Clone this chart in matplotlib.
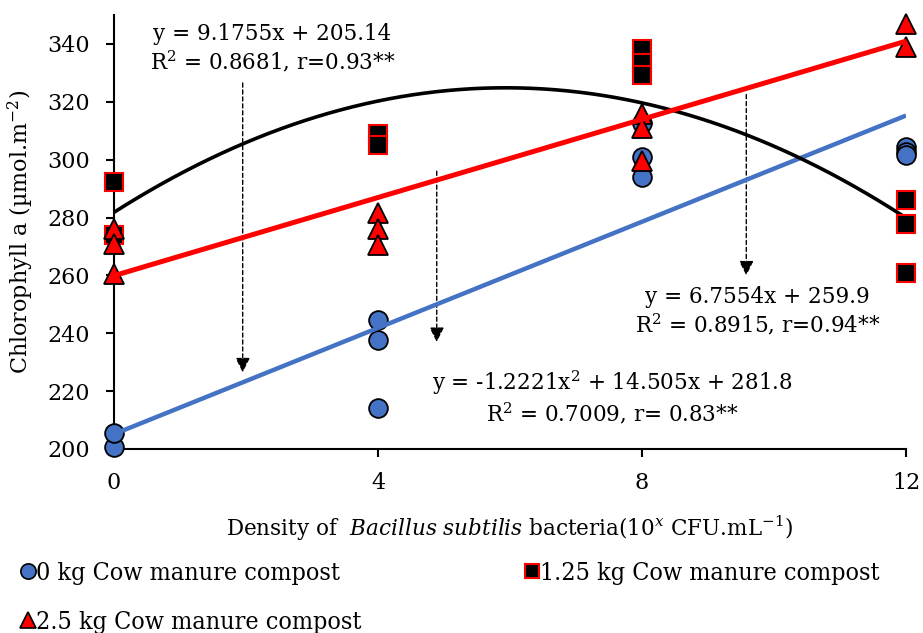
import numpy as np
import matplotlib
matplotlib.use('Agg')
import matplotlib.pyplot as plt
from matplotlib.lines import Line2D

plt.rcParams['font.family'] = 'DejaVu Serif'
plt.rcParams['mathtext.fontset'] = 'dejavuserif'

# Bacillus density (10^x) for each measurement
X_CIRCLE = [0, 0, 4, 4, 4, 8, 8, 8, 12, 12, 12]
Y_CIRCLE = [200.8, 205.4, 244.5, 237.5, 214.0, 312.5, 301.0, 294.0, 304.5, 302.5, 301.5]

X_SQUARE = [0, 0, 4, 4, 8, 8, 8, 12, 12, 12]
Y_SQUARE = [292.3, 274.0, 309.0, 305.0, 338.3, 333.5, 329.3, 286.2, 277.9, 260.7]

X_TRI = [0, 0, 0, 4, 4, 4, 8, 8, 8, 12, 12]
Y_TRI = [276.0, 271.0, 260.5, 281.4, 276.2, 270.4, 315.7, 311.0, 299.5, 346.8, 339.0]

# trendline coefficients (highest power first), as printed on the chart
FIT_CIRCLE = [9.1755, 205.14]
FIT_SQUARE = [-1.2221, 14.505, 281.8]
FIT_TRI = [6.7554, 259.9]

LABELS = ['0 kg Cow manure compost', '1.25 kg Cow manure compost', '2.5 kg Cow manure compost']
BLUE = '#4472C4'

fig = plt.figure(figsize=(9.23, 6.33), dpi=100)
ax = fig.add_axes([0.1235, 0.2907, 0.8581, 0.6856])

xs = np.linspace(0, 12, 200)

ax.plot(X_CIRCLE, Y_CIRCLE, 'o', ms=13.5, mfc=BLUE, mec='black', mew=1.3, clip_on=False, zorder=3)
ax.plot(xs, np.polyval(FIT_CIRCLE, xs), color=BLUE, lw=3.2, zorder=4, solid_capstyle='butt')
ax.plot(X_SQUARE, Y_SQUARE, 's', ms=12.5, mfc='black', mec='red', mew=1.5, clip_on=False, zorder=5)
ax.plot(xs, np.polyval(FIT_SQUARE, xs), color='black', lw=2.6, zorder=4, solid_capstyle='butt')
ax.plot(X_TRI, Y_TRI, '^', ms=14, mfc='red', mec='black', mew=1.3, clip_on=False, zorder=6)
ax.plot(xs, np.polyval(FIT_TRI, xs), color='red', lw=3.6, zorder=6, solid_capstyle='butt')

ax.set_xlim(0, 12)
ax.set_ylim(200, 350)
ax.set_xticks([0, 4, 8, 12])
ax.set_yticks(np.arange(200, 341, 20))
ax.spines['top'].set_visible(False)
ax.spines['right'].set_visible(False)
for s in ('left', 'bottom'):
    ax.spines[s].set_linewidth(1.5)
ax.tick_params(axis='both', direction='out', length=5.5, width=1.5, labelsize=16)
ax.tick_params(axis='y', pad=12)
ax.tick_params(axis='x', pad=11)

ax.set_xlabel('Density of  $\\it{Bacillus\\ subtilis}$ bacteria(10$^{x}$ CFU.mL$^{-1}$)',
              fontsize=15.5, labelpad=14)
ax.set_ylabel('Chlorophyll a (µmol.m$^{-2}$)', fontsize=16, labelpad=8)

# equations
ax.text(2.4, 338.3, 'y = 9.1755x + 205.14\nR$^2$ = 0.8681, r=0.93**', fontsize=15.5,
        ha='center', va='center', linespacing=1.15)
ax.text(9.75, 247.5, 'y = 6.7554x + 259.9\nR$^2$ = 0.8915, r=0.94**', fontsize=15.5,
        ha='center', va='center', linespacing=1.15)
ax.text(7.55, 217.8, 'y = -1.2221x$^2$ + 14.505x + 281.8\nR$^2$ = 0.7009, r= 0.83**', fontsize=15.5,
        ha='center', va='center', linespacing=1.15)

# dashed pointer arrows
arrow = dict(arrowstyle='-|>', linestyle=(0, (3, 2)), color='black', lw=1.0,
             mutation_scale=22, shrinkA=0, shrinkB=0)
ax.annotate('', xy=(1.95, 226.5), xytext=(1.95, 326.5), arrowprops=arrow)
ax.annotate('', xy=(4.89, 237.0), xytext=(4.89, 296.0), arrowprops=arrow)
ax.annotate('', xy=(9.58, 260.0), xytext=(9.58, 322.5), arrowprops=arrow)

handles = [
    Line2D([], [], ls='none', marker='o', ms=11, mfc=BLUE, mec='black', mew=1.2),
    Line2D([], [], ls='none', marker='^', ms=11, mfc='red', mec='black', mew=1.2),
    Line2D([], [], ls='none', marker='s', ms=10, mfc='black', mec='red', mew=1.5),
]
fig.legend(handles, [LABELS[0], LABELS[2], LABELS[1]], loc='upper left',
           bbox_to_anchor=(0.0, 0.148), ncol=2, frameon=False,
           prop=dict(family='DejaVu Serif', stretch='condensed', size=18),
           handlelength=0.45, handletextpad=0.1, columnspacing=6.6, labelspacing=1.05)

fig.savefig('out.png', dpi=100)
